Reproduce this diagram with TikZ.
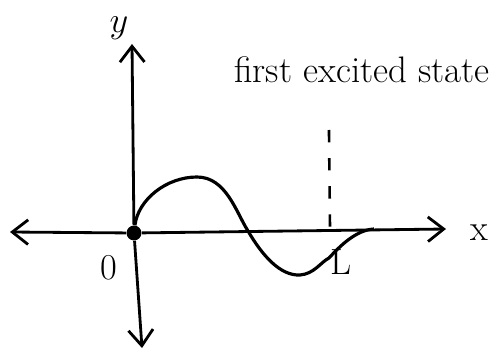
\documentclass[tikz,border=0pt]{standalone}
\usepackage{tikz}
\usetikzlibrary{arrows.meta}

\begin{document}
\begin{tikzpicture}[
  x=0.02cm, y=-0.02cm,
  axis/.style={line width=1.6pt, -{Straight Barb[length=9pt, width=14pt, line width=1.6pt]}},
  wave/.style={line width=1.8pt},
  lbl/.style={font=\huge},
]
  \useasboundingbox (0,0) rectangle (494,351);
  % axes
  \node[circle, fill, inner sep=3pt] (orig) at (134,233) {};
  \coordinate (xleft) at (10,232);
  \coordinate (xright) at (446,229);
  \coordinate (ytop) at (132,44);
  \coordinate (ybot) at (142,348);
  \draw[axis] (orig) -- (xright);
  \draw[axis] (orig) -- (xleft);
  \draw[axis] (orig) -- (ytop);
  \draw[axis] (orig) -- (ybot);
  \node[lbl] (ylab) at (119,28) {$y$};
  \node[lbl] (xlab) at (479,233) {x};
  \node[lbl] (zero) at (109,268) {0};
  % wall at L
  \coordinate (wall) at (330,229);
  \coordinate (walltop) at (329,130);
  \draw[line width=1.5pt, dash pattern=on 7pt off 9pt] (walltop) -- (wall);
  \node[lbl] (Llab) at (341,262) {L};
  \node[font=\fontsize{21}{25}\selectfont, anchor=east, inner sep=0pt] (title) at (490,70) {first excited state};
  % wave function
  \coordinate (peak) at (197,177);
  \coordinate (node1) at (248,231);
  \coordinate (trough) at (300,275);
  \coordinate (kink) at (329,258);
  \coordinate (tail) at (374,229);
  \draw[wave] (orig) .. controls (138,200) and (166,177) .. (peak)
    .. controls (226,177) and (236,212) .. (node1)
    .. controls (262,255) and (280,276) .. (trough)
    .. controls (314,274) and (321,262) .. (kink)
    .. controls (340,246) and (356,230) .. (tail);
\end{tikzpicture}
\end{document}
